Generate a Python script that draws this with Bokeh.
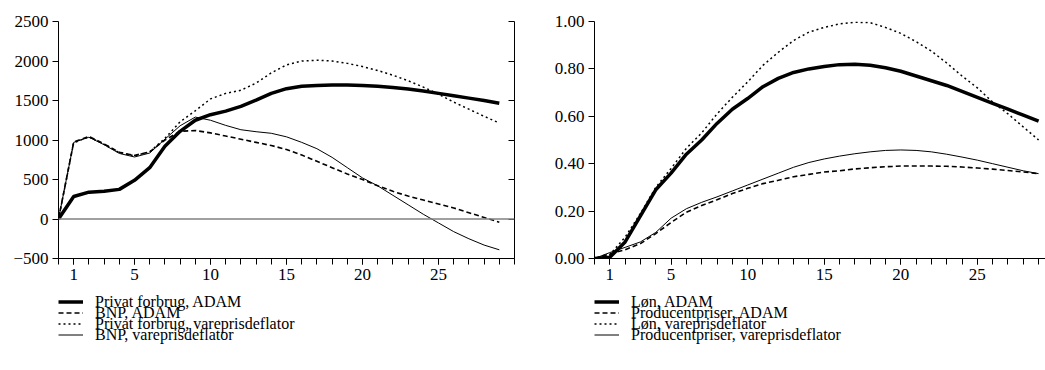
from bokeh.plotting import figure
from bokeh.layouts import row, column
from bokeh.models import Range1d, LinearAxis, FixedTicker, Span, Legend, LegendItem, NumeralTickFormatter
from bokeh.embed import file_html
from bokeh.resources import INLINE

# ---------------- data ----------------
periods = list(range(0, 30))
x_label_ticks = [1, 5, 10, 15, 20, 25]

privat_adam = [0, 285, 340, 350, 375, 490, 650, 920, 1110, 1250, 1320, 1365, 1425, 1505, 1590, 1650, 1680,
               1690, 1695, 1695, 1690, 1680, 1665, 1645, 1620, 1590, 1560, 1530, 1500, 1465]
bnp_adam = [0, 975, 1045, 950, 845, 805, 850, 1000, 1110, 1120, 1090, 1050, 1010, 970, 930, 880, 810,
            730, 650, 570, 500, 420, 350, 290, 240, 190, 140, 80, 20, -40]
privat_vpd = [0, 965, 1040, 945, 840, 800, 850, 1020, 1230, 1370, 1520, 1590, 1630, 1720, 1850, 1950, 2000,
              2010, 2000, 1970, 1930, 1880, 1820, 1750, 1670, 1580, 1480, 1390, 1300, 1215]
bnp_vpd = [0, 970, 1035, 940, 830, 785, 835, 1010, 1180, 1290, 1250, 1185, 1130, 1105, 1085, 1040, 970,
           890, 780, 650, 520, 420, 300, 180, 60, -50, -160, -250, -330, -390]

lon_adam = [0, 0.005, 0.07, 0.18, 0.29, 0.36, 0.44, 0.50, 0.57, 0.63, 0.675, 0.725, 0.76, 0.785, 0.80, 0.81,
            0.818, 0.82, 0.815, 0.805, 0.79, 0.77, 0.75, 0.73, 0.705, 0.68, 0.655, 0.63, 0.605, 0.58]
prod_adam = [0, 0.02, 0.037, 0.063, 0.105, 0.152, 0.195, 0.224, 0.248, 0.274, 0.296, 0.316, 0.33, 0.345, 0.355,
             0.365, 0.37, 0.378, 0.383, 0.387, 0.39, 0.39, 0.39, 0.389, 0.386, 0.382, 0.377, 0.371, 0.365, 0.358]
lon_vpd = [0, 0.016, 0.09, 0.19, 0.30, 0.38, 0.465, 0.53, 0.61, 0.68, 0.745, 0.815, 0.87, 0.92, 0.955, 0.975,
           0.99, 0.997, 0.995, 0.975, 0.95, 0.915, 0.875, 0.825, 0.77, 0.72, 0.66, 0.61, 0.555, 0.50]
prod_vpd = [0, 0.025, 0.047, 0.07, 0.11, 0.17, 0.21, 0.237, 0.26, 0.285, 0.31, 0.335, 0.36, 0.385, 0.405, 0.42,
            0.432, 0.442, 0.45, 0.456, 0.458, 0.456, 0.45, 0.44, 0.428, 0.415, 0.40, 0.385, 0.37, 0.358]

left_labels = ["Privat forbrug, ADAM", "BNP, ADAM", "Privat forbrug, vareprisdeflator", "BNP, vareprisdeflator"]
right_labels = ["Løn, ADAM", "Producentpriser, ADAM", "Løn, vareprisdeflator", "Producentpriser, vareprisdeflator"]

FONT = "Liberation Serif"
FSIZE = "17px"
LSIZE = "16px"
NAN = float("nan")

styles = [
    dict(line_width=3.5, line_dash="solid"),
    dict(line_width=1.6, line_dash="5 3"),
    dict(line_width=1.5, line_dash="2 3"),
    dict(line_width=1.0, line_dash="solid"),
]
legend_offsets = [58, 47, 36, 25]   # screen offsets of the four legend rows inside the legend strip


def style_axis(ax):
    ax.axis_line_color = "black"
    ax.major_tick_line_color = "black"
    ax.minor_tick_line_color = "black"
    ax.major_label_text_font = FONT
    ax.major_label_text_font_size = FSIZE
    ax.major_label_text_color = "black"


def clean(p):
    p.outline_line_color = None
    p.xgrid.visible = False
    p.ygrid.visible = False
    p.background_fill_color = "white"
    p.border_fill_color = "white"


def make_fig(xmax, yr, yticks, fmt, left_border, frame_w, right_border, series, labels, right_axis):
    p = figure(frame_width=frame_w, frame_height=237, output_backend="svg", toolbar_location=None,
               x_range=Range1d(0, xmax), y_range=Range1d(*yr),
               min_border_left=left_border, min_border_right=right_border,
               min_border_top=21, min_border_bottom=30)
    clean(p)

    xa = p.xaxis[0]
    xa.ticker = FixedTicker(ticks=x_label_ticks, minor_ticks=list(range(0, 31)))
    style_axis(xa)
    xa.major_tick_in = 0
    xa.major_tick_out = 6
    xa.minor_tick_in = 0
    xa.minor_tick_out = 6
    xa.major_label_standoff = 4

    ya = p.yaxis[0]
    ya.ticker = FixedTicker(ticks=yticks)
    if fmt:
        ya.formatter = NumeralTickFormatter(format=fmt)
    style_axis(ya)
    ya.major_tick_out = 6
    ya.major_tick_in = 0
    ya.minor_tick_line_color = None
    ya.major_label_standoff = 4

    if right_axis:
        ra = LinearAxis(ticker=FixedTicker(ticks=yticks))
        style_axis(ra)
        ra.major_tick_in = 6
        ra.major_tick_out = 0
        ra.minor_tick_line_color = None
        ra.major_label_text_font_size = "0px"
        ra.major_label_overrides = {t: "" for t in yticks}
        p.add_layout(ra, "right")
        p.add_layout(Span(location=0, dimension="width", line_color="#808080", line_width=1.5))

    for ys, st in zip(series, styles):
        p.line(periods, ys, line_color="black", line_width=st["line_width"], line_dash=st["line_dash"])

    # legend strip below the chart (one single-row legend per series)
    lg = figure(frame_width=frame_w, frame_height=82, output_backend="svg", toolbar_location=None,
                x_range=Range1d(0, 1), y_range=Range1d(0, 1),
                x_axis_location=None, y_axis_location=None,
                min_border_left=left_border, min_border_right=right_border,
                min_border_top=0, min_border_bottom=0)
    clean(lg)
    for lab, st, off in zip(labels, styles, legend_offsets):
        r = lg.line(x=[NAN], y=[NAN], line_color="black", line_width=st["line_width"],
                    line_dash=st["line_dash"])
        leg = Legend(items=[LegendItem(label=lab, renderers=[r])], location=(0, off),
                     orientation="vertical",
                     glyph_width=25, glyph_height=21, label_height=11, label_standoff=12,
                     spacing=0, padding=0, margin=0,
                     label_text_font=FONT, label_text_font_size=LSIZE, label_text_color="black",
                     border_line_color=None, background_fill_alpha=0)
        lg.add_layout(leg, "center")
    return column(p, lg, spacing=0)


c1 = make_fig(30, (-500, 2500), [-500, 0, 500, 1000, 1500, 2000, 2500], None, 58, 456, 16,
              [privat_adam, bnp_adam, privat_vpd, bnp_vpd], left_labels, True)
c2 = make_fig(29.45, (0, 1.0), [0, 0.2, 0.4, 0.6, 0.8, 1.0], "0.00", 64, 451, 0,
              [lon_adam, prod_adam, lon_vpd, prod_vpd], right_labels, False)

layout = row(c1, c2, spacing=0)
open("out.html", "w").write(file_html(layout, INLINE))
